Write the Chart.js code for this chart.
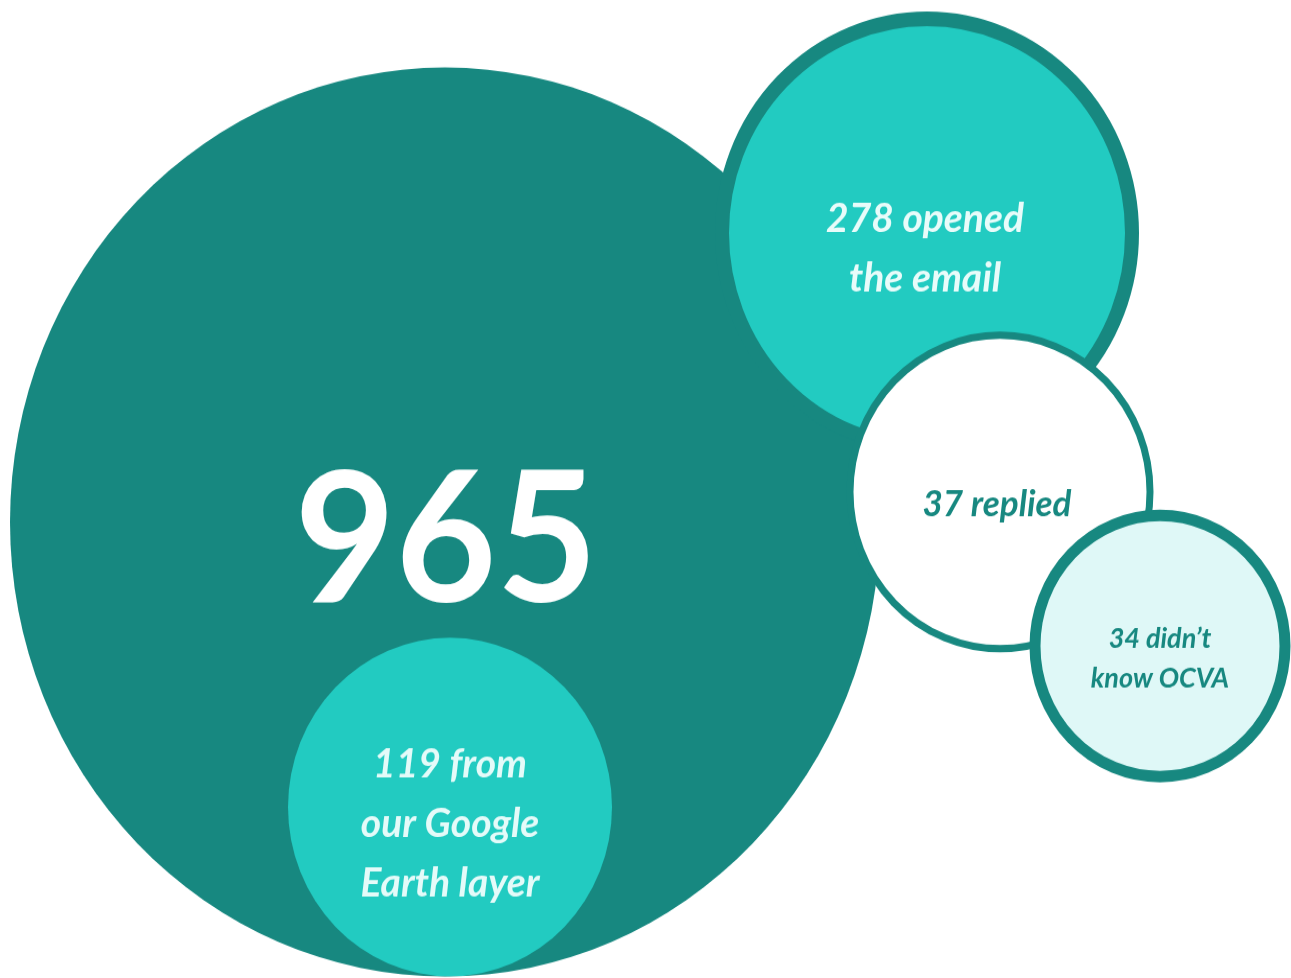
<!DOCTYPE html>
<html>
<head>
<meta charset="utf-8">
<title>Email outreach bubbles</title>
<script src="https://cdn.jsdelivr.net/npm/chart.js@4/dist/chart.umd.min.js"></script>
<style>
    html, body { margin: 0; padding: 0; background: #ffffff; }
    #page { width: 1291px; height: 978px; position: relative; overflow: visible; }
    /* the original picture is slightly stretched vertically */
    #wrap { position: absolute; left: 0; top: 0; width: 1291px; height: 936px; transform: scaleY(1.0449); transform-origin: 0 0; }
</style>
</head>
<body>
<div id="page"><div id="wrap"><canvas id="bubbleGraph" width="1291" height="936"></canvas></div></div>
<script>
// data
const categories = ['965', '119 from our Google Earth layer', '278 opened the email', '37 replied', 'Didn’t know OCVA'];
const counts = [965, 119, 278, 37, 34];
const labelLines = [
    ['965'],
    ['119 from', 'our Google', 'Earth layer'],
    ['278 opened', 'the email'],
    ['37 replied'],
    ['34 didn’t', 'know OCVA']
];
// bubble placement in picture units (x, y) and radius in px
const bubbleX = [445, 450, 927, 1000, 1160];
const bubbleY = [522, 807, 233, 492, 646];
const bubbleR = [435, 162, 205, 150, 125];

const dark = '#178880';
const cyan = '#22cbc1';

// label look, offsets are from the bubble centre
const labelStyle = [
    { font: 'bold 174px Lato', color: '#ffffff', dx: 1, dy: 80, gap: 0 },
    { font: 'italic bold 39px Lato', color: '#e4fbf9', dx: 0, dy: -30, gap: 60 },
    { font: 'italic bold 39px Lato', color: '#e8fcfa', dx: -2, dy: -1, gap: 60 },
    { font: 'italic bold 35px Lato', color: dark, dx: -3, dy: 24, gap: 0 },
    { font: 'italic bold 27px Lato', color: dark, dx: 0, dy: 2, gap: 40 }
];

const bubbleLabels = {
    id: 'bubbleLabels',
    afterDatasetsDraw(chart) {
        const ctx = chart.ctx;
        const meta = chart.getDatasetMeta(0);
        const ys = chart.scales.y;
        const k = Math.abs(ys.getPixelForValue(100) - ys.getPixelForValue(0)) / 100;
        ctx.save();
        ctx.textAlign = 'center';
        ctx.textBaseline = 'alphabetic';
        meta.data.forEach((el, i) => {
            const st = labelStyle[i];
            ctx.font = st.font;
            ctx.fillStyle = st.color;
            labelLines[i].forEach((line, j) => {
                ctx.fillText(line, el.x + st.dx, el.y + (st.dy + j * st.gap) * k);
            });
        });
        ctx.restore();
    }
};

const points = counts.map((c, i) => ({ x: bubbleX[i], y: bubbleY[i], r: bubbleR[i], n: c }));

const ctx1 = document.getElementById('bubbleGraph');

new Chart(ctx1, {
    type: 'bubble',
    data: {
        labels: categories,
        datasets: [{
            label: 'Email outreach',
            data: points,
            backgroundColor: [dark, cyan, cyan, '#ffffff', '#dff8f7'],
            borderColor: dark,
            borderWidth: [0, 0, 14, 7, 11],
            clip: false
        }]
    },
    options: {
        responsive: false,
        animation: false,
        events: [],
        layout: { padding: 0, autoPadding: false },
        plugins: {
            legend: { display: false },
            tooltip: { enabled: false }
        },
        scales: {
            x: { type: 'linear', min: 0, max: 1291, display: false },
            y: { type: 'linear', min: 0, max: 978, reverse: true, display: false }
        }
    },
    plugins: [bubbleLabels]
});
</script>
</body>
</html>
